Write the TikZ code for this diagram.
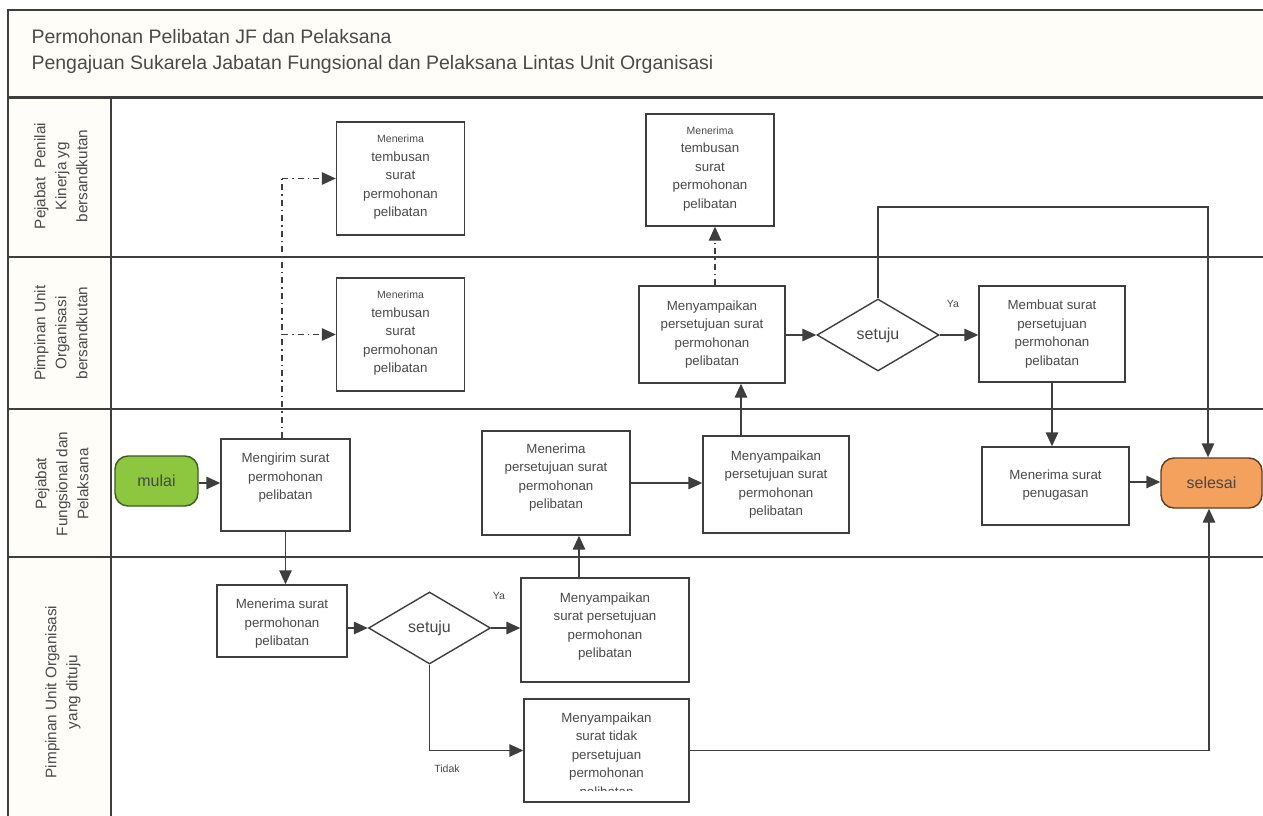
\documentclass[tikz,border=0pt]{standalone}
\usepackage{fontspec}
\setmainfont{Liberation Sans}
\usetikzlibrary{arrows.meta,shapes.geometric}
\definecolor{ln}{HTML}{3E3E3E}
\definecolor{tx}{HTML}{4A4A4A}
\definecolor{mulaigreen}{HTML}{8DC63F}
\definecolor{mulaiedge}{HTML}{3F5A22}
\definecolor{selesaiorange}{HTML}{F4A15D}
\definecolor{selesaiedge}{HTML}{5A3C24}
\definecolor{titlebg}{HTML}{FFFDF8}
\begin{document}
\begin{tikzpicture}[x=1pt,y=-1pt,
  box/.style={draw=ln, line width=1.4pt, fill=white, inner sep=0pt},
  lbl/.style={anchor=center, align=center, text=tx, font=\fontsize{13.3}{18.5}\selectfont},
  lanelbl/.style={rotate=90, align=center, text=tx, font=\fontsize{15.3}{21}\selectfont},
  tip/.style={-{Triangle[length=14pt,width=12.5pt]}},
  flow/.style={draw=ln, line width=1.4pt, tip},
  ddash/.style={draw=ln, line width=1.3pt, dash pattern=on 6pt off 4pt on 1.5pt off 4pt},
  dec/.style={diamond, draw=ln, line width=1.4pt, fill=white, inner sep=0pt, aspect=1.7,
     minimum width=122, minimum height=72, text=black!72, font=\fontsize{16}{18}\selectfont},
  term/.style={rounded corners=13pt, line width=1.4pt, minimum width=83, minimum height=50,
     inner sep=0pt, font=\fontsize{16}{18}\selectfont, text=black!72},
  small/.style={text=tx, font=\fontsize{10.5}{12}\selectfont},
  lane/.style={draw=ln, line width=1.3pt}
]
\useasboundingbox (0,0) rectangle (1263,816);
\fill[white] (0,0) rectangle (1263,816);
% title area
\fill[titlebg] (8,10) rectangle (1263,97);
\fill[titlebg] (8,97) rectangle (111,816);
\draw[lane] (8,816) -- (8,10) -- (1263,10);
\draw[draw=ln, line width=3pt] (8,97) -- (1263,97);
\node[anchor=west, align=left, text=tx, font=\fontsize{19.5}{26}\selectfont] (title) at (28,51)
  {Permohonan Pelibatan JF dan Pelaksana\\Pengajuan Sukarela Jabatan Fungsional dan Pelaksana Lintas Unit Organisasi};
% lanes
\draw[lane] (8,257) -- (1263,257);
\draw[lane] (8,409) -- (1263,409);
\draw[lane] (8,557) -- (1263,557);
\draw[lane] (111,97) -- (111,816);
\node[lanelbl] (l1) at (61,176) {Pejabat\ \ Penilai\\Kinerja yg\\bersandkutan};
\node[lanelbl] (l2) at (61,333) {Pimpinan Unit\\Organisasi\\bersandkutan};
\node[lanelbl] (l3) at (62,484) {Pejabat\\Fungsional dan\\Pelaksana};
\node[lanelbl] (l4) at (63,692) {Pimpinan Unit Organisasi\\yang dituju};

% lane 1
\node[box, minimum width=128, minimum height=113,
  label={[lbl, yshift=1]center:{\fontsize{10.5}{15}\selectfont Menerima}\\tembusan\\surat\\permohonan\\pelibatan}]
  (tem1) at (400.5,178.5) {};
\node[box, minimum width=128, minimum height=112,
  label={[lbl, yshift=1]center:{\fontsize{10.5}{15}\selectfont Menerima}\\tembusan\\surat\\permohonan\\pelibatan}]
  (tem3) at (710,170) {};
% lane 2
\node[box, minimum width=128, minimum height=113,
  label={[lbl, yshift=1]center:{\fontsize{10.5}{15}\selectfont Menerima}\\tembusan\\surat\\permohonan\\pelibatan}]
  (tem2) at (400.5,334.5) {};
\node[box, minimum width=146, minimum height=97,
  label={[lbl]center:Menyampaikan\\persetujuan surat\\permohonan\\pelibatan}]
  (myp2) at (712,334.5) {};
\node[dec] (dec1) at (878,335) {setuju};
\node[small] (ya1) at (953,304) {Ya};
\node[box, minimum width=146, minimum height=96,
  label={[lbl]center:Membuat surat\\persetujuan\\permohonan\\pelibatan}]
  (membuat) at (1052,334) {};
% lane 3
\node[term, draw=mulaiedge, fill=mulaigreen] (mulai) at (156.5,481) {mulai};
\node[box, minimum width=129, minimum height=92,
  label={[lbl, yshift=7]center:Mengirim surat\\permohonan\\pelibatan}]
  (mengirim) at (285.5,485) {};
\node[box, minimum width=148, minimum height=104,
  label={[lbl, yshift=5.5]center:Menerima\\persetujuan surat\\permohonan\\pelibatan}]
  (mnp) at (556,483) {};
\node[box, minimum width=146, minimum height=97,
  label={[lbl]center:Menyampaikan\\persetujuan surat\\permohonan\\pelibatan}]
  (myp3) at (776,484.5) {};
\node[box, minimum width=147, minimum height=78,
  label={[lbl, yshift=1]center:Menerima surat\\penugasan}]
  (penugasan) at (1055.5,486) {};
\node[term, draw=selesaiedge, fill=selesaiorange, minimum width=101] (selesai) at (1211.5,483) {selesai};
% lane 4
\node[box, minimum width=130, minimum height=72,
  label={[lbl, yshift=-3]center:Menerima surat\\permohonan\\pelibatan}]
  (mrs) at (282,621) {};
\node[dec] (dec2) at (429.5,628) {setuju};
\node[small] (ya2) at (499,596) {Ya};
\node[box, minimum width=168, minimum height=104,
  label={[lbl, yshift=3.5]center:Menyampaikan\\surat persetujuan\\permohonan\\pelibatan}]
  (msp) at (605,630) {};
\node[box, minimum width=165, minimum height=103] (tidak) at (606.5,750.5) {};
\begin{scope}
  \clip ([xshift=1]tidak.north west) rectangle ([xshift=-1,yshift=12]tidak.south east);
  \node[lbl] (tidaktext) at ([yshift=-5.5]tidak.center) {Menyampaikan\\surat tidak\\persetujuan\\permohonan\\pelibatan};
\end{scope}
\node[small] (tidaklbl) at (447,769) {Tidak};

% connectors
\draw[flow] (mulai.east |- 0,483) coordinate (m1) -- (m1 -| mengirim.west);
\draw[ddash] ([xshift=-3.5]mengirim.north) -- ([xshift=-3.5]mengirim.north |- tem1.west) coordinate (dd1);
\draw[ddash, tip] (dd1) -- (tem1.west);
\draw[ddash, tip] ([xshift=-3.5]mengirim.north |- tem2.west) -- (tem2.west);
\draw[flow] (mengirim.south) -- (mengirim.south |- mrs.north);
\draw[flow] (mrs.east |- dec2.west) -- (dec2.west);
\draw[flow] (dec2.east) -- (dec2.east -| msp.west);
\draw[flow] (dec2.south) |- (tidak.west);
\draw[flow] ([xshift=-26]msp.north) -- ([xshift=-26]msp.north |- mnp.south);
\draw[flow] (mnp.east) -- (mnp.east -| myp3.west);
\draw[flow] ([xshift=-35]myp3.north) -- ([xshift=-35]myp3.north |- myp2.south);
\draw[ddash, tip] ([xshift=3]myp2.north) -- ([xshift=3]myp2.north |- tem3.south);
\draw[flow] (myp2.east |- dec1.west) -- (dec1.west);
\draw[flow] (dec1.east) -- (dec1.east -| membuat.west);
\coordinate (loopc) at (1208,207);
\draw[flow] (dec1.north) |- (loopc) -- (loopc |- selesai.north);
\draw[flow] (membuat.south) -- (membuat.south |- penugasan.north);
\draw[flow] (penugasan.east |- 0,482) coordinate (p1) -- (p1 -| selesai.west);
\draw[flow] (tidak.east) -| ([xshift=-2.5]selesai.south);
\end{tikzpicture}
\end{document}
